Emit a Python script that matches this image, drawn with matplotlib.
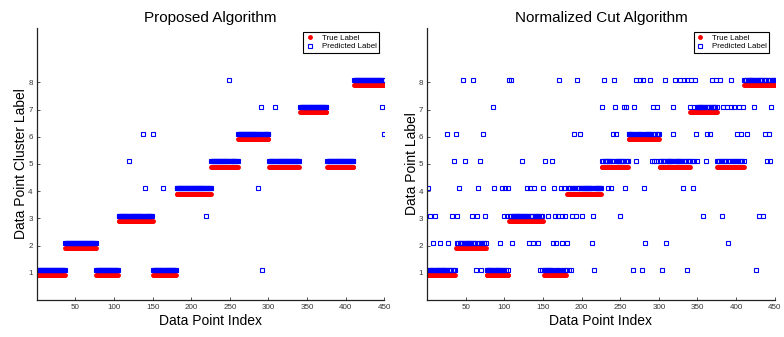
#Comparacion de etiquetas verdaderas y predichas para dos algoritmos de agrupamiento
import matplotlib
matplotlib.use('Agg')
import matplotlib.pyplot as plt  #Libreria para graficar
import numpy as np  #Libreria para arreglos

plt.rcParams['font.family'] = ['Liberation Sans', 'DejaVu Sans']

#Etiquetas verdaderas por segmentos (etiqueta y cantidad de puntos)
etiquetas_segmento = [1, 2, 1, 3, 1, 4, 5, 6, 5, 7, 5, 8]
tamanos_segmento = [36, 40, 29, 45, 30, 45, 35, 40, 40, 35, 35, 40]

#Errores del algoritmo propuesto: indice del punto y etiqueta predicha
propuesto_indices = [120, 137, 140, 150, 163, 219, 249, 287, 290, 292, 309, 447, 450]
propuesto_etiquetas = [5, 6, 4, 6, 4, 3, 8, 4, 7, 1, 7, 7, 6]

#Errores de Normalized Cut: indices de los puntos asignados a cada etiqueta
ncut_a_1 = [63, 69, 146, 149, 183, 186, 216, 266, 278, 304, 336, 426]
ncut_a_2 = [8, 17, 27, 94, 110, 132, 137, 143, 163, 167, 175, 181, 214, 282, 309, 389]
ncut_a_3 = [4, 10, 32, 39, 58, 65, 75, 100, 103, 156, 166, 170, 174, 179, 187, 193,
            201, 215, 250, 357, 382, 430, 435]
ncut_a_4 = [1, 41, 66, 86, 97, 101, 105, 129, 133, 138, 150, 164, 173, 177, 234, 238,
            256, 281, 331, 344]
ncut_a_5 = [35, 49, 68, 123, 152, 162, 271, 291, 294, 296, 343, 345, 350, 361, 440, 444]
ncut_a_6 = [26, 37, 72, 190, 198, 241, 245, 319, 348, 362, 366, 401, 407, 414, 438, 443]
ncut_a_7 = [85, 227, 243, 255, 258, 268, 293, 298, 318, 383, 388, 393, 398, 404, 409,
            423, 445]
ncut_a_8 = [46, 59, 106, 109, 171, 194, 229, 242, 270, 275, 280, 288, 308, 321, 327,
            332, 337, 342, 347, 369, 374, 379, 394]

verdad = np.repeat(etiquetas_segmento, tamanos_segmento)  #Etiqueta verdadera de cada punto
indices = np.arange(1, len(verdad) + 1)

pred_propuesto = verdad.copy()
pred_propuesto[np.array(propuesto_indices) - 1] = propuesto_etiquetas

pred_ncut = verdad.copy()
for etiqueta, lista in enumerate([ncut_a_1, ncut_a_2, ncut_a_3, ncut_a_4,
                                  ncut_a_5, ncut_a_6, ncut_a_7, ncut_a_8], start=1):
    pred_ncut[np.array(lista) - 1] = etiqueta


def graficar_panel(ax, prediccion, titulo, etiqueta_y):
    '''
    Dibuja las etiquetas verdaderas (rojo) y predichas (azul) en un panel
    '''
    ax.plot(indices, verdad - 0.1, 'o', color='red', ms=3.5, mew=0, label='True Label')
    ax.plot(indices, prediccion + 0.1, 's', mfc='none', mec='blue', ms=3.0, mew=0.8,
            label='Predicted Label')
    ax.set_xlim(0, 450)
    ax.set_ylim(0, 10)
    ax.set_xticks([50, 100, 150, 200, 250, 300, 350, 400, 450])
    ax.set_yticks([1, 2, 3, 4, 5, 6, 7, 8])
    ax.tick_params(direction='in', length=2.5, labelsize=5.8, labelcolor='#333333',
                   width=0.6, pad=3, color='#333333')
    for lado in ['top', 'right']:
        ax.spines[lado].set_visible(False)
    for lado in ['left', 'bottom']:
        ax.spines[lado].set_linewidth(0.9)
        ax.spines[lado].set_color('#222222')
    ax.set_title(titulo, fontsize=11, pad=4.5)
    ax.set_xlabel('Data Point Index', fontsize=10, labelpad=2)
    ax.set_ylabel(etiqueta_y, fontsize=10, labelpad=0)
    leyenda = ax.legend(loc='upper right', bbox_to_anchor=(0.985, 0.985), fontsize=5.7,
                        fancybox=False, edgecolor='black', framealpha=1, borderpad=0.3,
                        handletextpad=1.0, labelspacing=0.1, handlelength=1.0,
                        borderaxespad=0)
    leyenda.get_frame().set_linewidth(0.8)


fig = plt.figure(figsize=(7.84, 3.37), dpi=100)
ax1 = fig.add_axes([0.047, 0.11, 0.443, 0.807])
ax2 = fig.add_axes([0.545, 0.11, 0.443, 0.807])

graficar_panel(ax1, pred_propuesto, 'Proposed Algorithm', 'Data Point Cluster Label')
graficar_panel(ax2, pred_ncut, 'Normalized Cut Algorithm', 'Data Point Label')

fig.savefig('out.png', dpi=100)
